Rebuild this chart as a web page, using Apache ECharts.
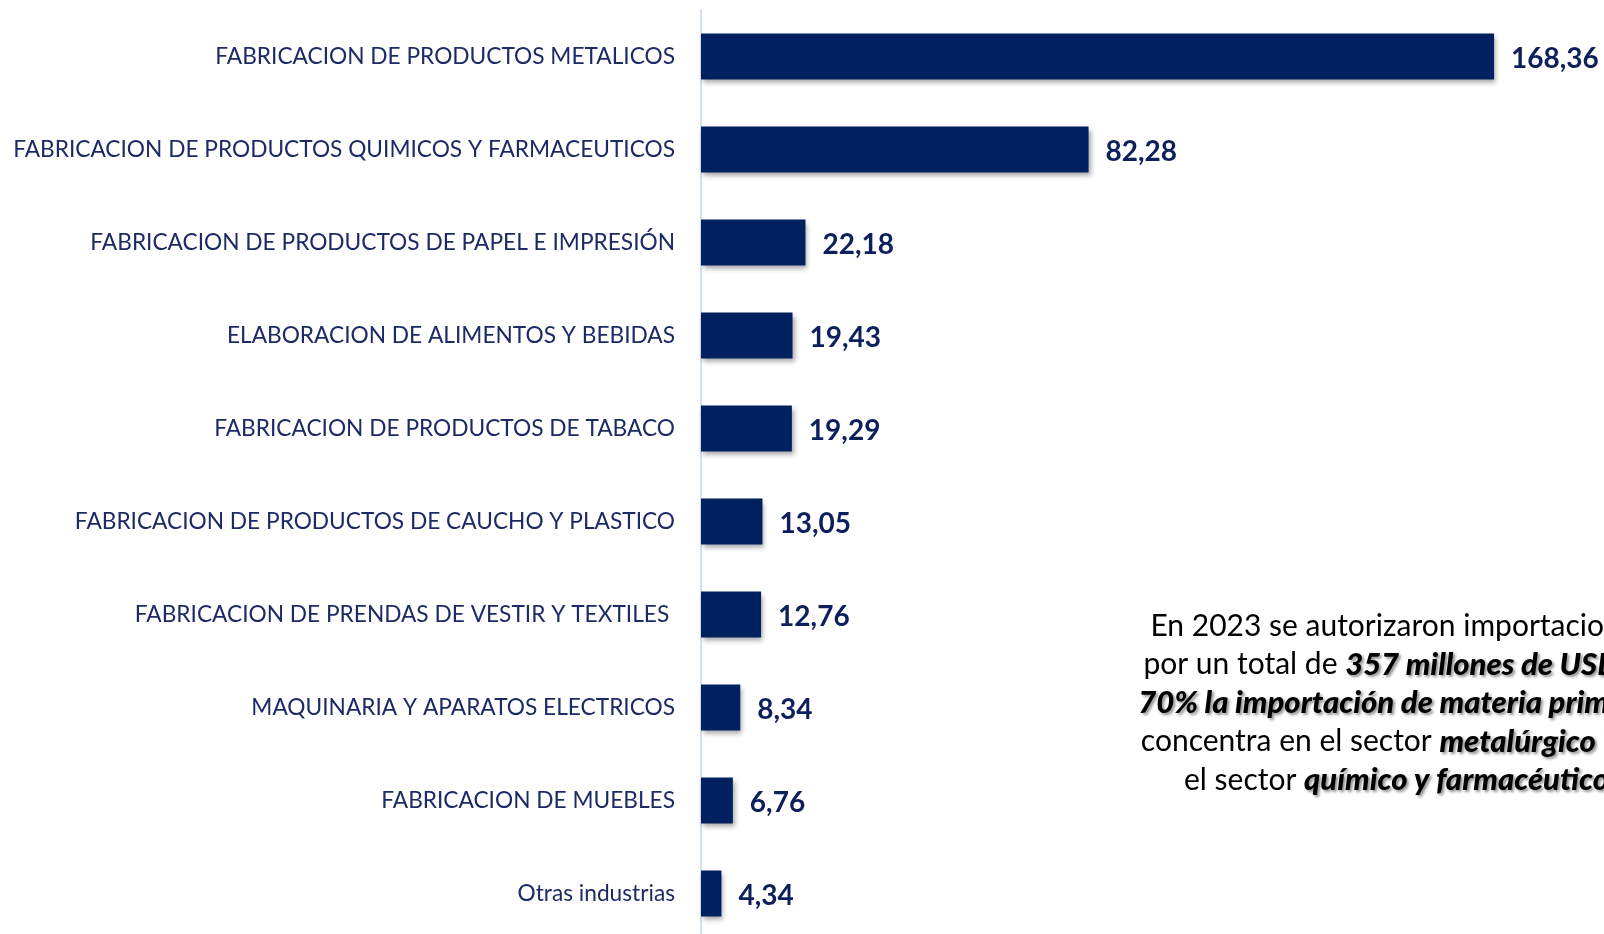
<!DOCTYPE html>
<html><head><meta charset="utf-8">
<script src="https://cdn.jsdelivr.net/npm/echarts@6/dist/echarts.min.js"></script>
<style>html,body{margin:0;padding:0;background:#fff}#c{width:1604px;height:934px}</style>
</head><body><div id="c"></div>
<script>
const categories = [
  "FABRICACION DE PRODUCTOS METALICOS",
  "FABRICACION DE PRODUCTOS QUIMICOS Y FARMACEUTICOS",
  "FABRICACION DE PRODUCTOS DE PAPEL E IMPRESIÓN",
  "ELABORACION DE ALIMENTOS Y BEBIDAS",
  "FABRICACION DE PRODUCTOS DE TABACO",
  "FABRICACION DE PRODUCTOS DE CAUCHO Y PLASTICO",
  "FABRICACION DE PRENDAS DE VESTIR Y TEXTILES ",
  "MAQUINARIA Y APARATOS ELECTRICOS",
  "FABRICACION DE MUEBLES",
  "Otras industrias"
];
const values = [168.36, 82.28, 22.18, 19.43, 19.29, 13.05, 12.76, 8.34, 6.76, 4.34];
const noteLines = [
  [["n","En 2023 se autorizaron importaciones"]],
  [["n","por un total de "],["b","357 millones de USD"],["n",", el"]],
  [["b","70% la importación de materia prima"],["n"," se"]],
  [["n","concentra en el sector "],["b","metalúrgico"],["n"," y en"]],
  [["n","el sector "],["b","químico y farmacéutico"],["n","."]]
];
const FONT = "Lato";
const chart = echarts.init(document.getElementById('c'));
const noteText = noteLines.map(l => l.map(([k,t]) => '{' + k + '|' + t + '}').join('')).join('\n');
chart.setOption({
  animation: false,
  grid: { left: 701, top: 10, width: 895, height: 930, containLabel: false, outerBoundsMode: 'none' },
  xAxis: { type: 'value', min: 0, max: 190, show: false },
  yAxis: {
    type: 'category', data: categories, inverse: true,
    axisLine: { show: true, lineStyle: { color: '#d6e0ef', width: 2 } },
    axisTick: { show: false },
    axisLabel: { color: '#1c2a66', fontFamily: FONT, fontSize: 22.7, margin: 26 }
  },
  series: [{
    type: 'bar', data: values, barWidth: 46,
    itemStyle: { color: '#002060', shadowColor: 'rgba(0,0,0,0.35)', shadowBlur: 5, shadowOffsetX: 2, shadowOffsetY: 3 },
    label: {
      show: true, position: 'right', distance: 17, offset: [0, 2], color: '#0d1f5c',
      fontFamily: FONT, fontWeight: 'bold', fontSize: 28,
      formatter: p => p.value.toFixed(2).replace('.', ',')
    }
  }],
  graphic: [{
    type: 'text', x: 1400, y: 607,
    style: {
      text: noteText, align: 'center', verticalAlign: 'top',
      rich: {
        n: { fontFamily: FONT, fontSize: 30, color: '#111', lineHeight: 38.5 },
        b: { fontFamily: FONT, fontSize: 31, color: '#111', fontWeight: 900, fontStyle: 'italic', lineHeight: 38.5,
             textShadowColor: 'rgba(0,0,0,0.45)', textShadowBlur: 3, textShadowOffsetX: 2, textShadowOffsetY: 2 }
      }
    }
  }]
});
</script></body></html>
